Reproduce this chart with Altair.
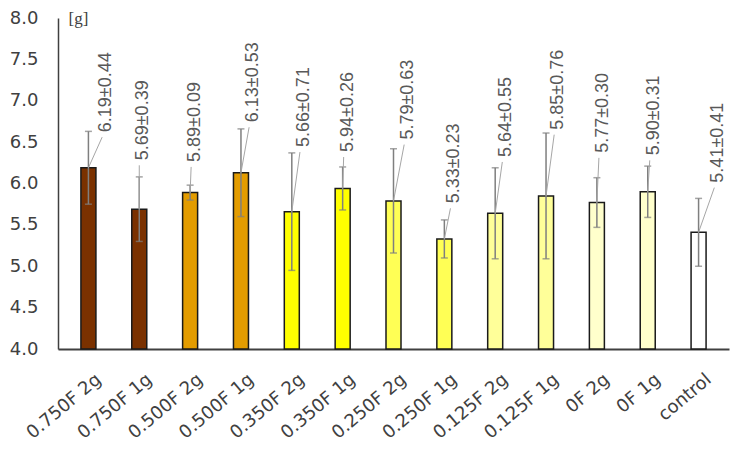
import json
import pandas as pd
import altair as alt

# data
names = ['0.750F 2g', '0.750F 1g', '0.500F 2g', '0.500F 1g', '0.350F 2g', '0.350F 1g',
         '0.250F 2g', '0.250F 1g', '0.125F 2g', '0.125F 1g', '0F 2g', '0F 1g', 'control']
means = [6.19, 5.69, 5.89, 6.13, 5.66, 5.94, 5.79, 5.33, 5.64, 5.85, 5.77, 5.90, 5.41]
sds = [0.44, 0.39, 0.09, 0.53, 0.71, 0.26, 0.63, 0.23, 0.55, 0.76, 0.30, 0.31, 0.41]

# where each data label sits (y in grams, x shift in category widths)
label_y = [6.56, 6.22, 6.20, 6.68, 6.38, 6.32, 6.47, 5.70, 6.26, 6.59, 6.31, 6.28, 5.95]
label_shift = [0.27, 0.0, 0.02, 0.16, 0.16, 0.02, 0.21, 0.12, 0.14, 0.16, 0.04, 0.04, 0.31]

conc_order = ['0.750F', '0.500F', '0.350F', '0.250F', '0.125F', '0F', 'control']
conc_colors = ['#7A3100', '#E39C00', '#FFFF00', '#FFFF55', '#FFFF99', '#FFFFCC', '#FFFFFF']

df = pd.DataFrame({'name': names, 'avg': means, 'sd': sds,
                   'ly': label_y, 'shift': label_shift})
df['idx'] = range(len(df))
df['lo'] = df['avg'] - df['sd']
df['hi'] = df['avg'] + df['sd']
df['lx'] = df['idx'] + df['shift']
df['conc'] = df['name'].str.split().str[0]
df['label'] = [f'{m:.2f}±{s:.2f}' for m, s in zip(means, sds)]

label_expr = json.dumps(names) + '[datum.value]'

x_scale = alt.Scale(domain=[-0.5, len(names) - 0.5], nice=False, zero=False)
y_scale = alt.Scale(domain=[4, 8], nice=False, zero=False)

x_axis = alt.Axis(values=list(range(len(names))), labelExpr=label_expr,
                  labelAngle=-40, labelAlign='right', labelBaseline='middle',
                  labelFont='DejaVu Sans', labelFontSize=18, labelColor='#404040',
                  labelPadding=28, labelOffset=10, labelOverlap=False, labelFlush=False,
                  ticks=False, grid=False, domainColor='#404040', domainWidth=2)
y_axis = alt.Axis(values=[4, 4.5, 5, 5.5, 6, 6.5, 7, 7.5, 8], format='.1f',
                  grid=False, ticks=False, domainColor='#404040', domainWidth=1.5,
                  labelFont='DejaVu Sans', labelFontSize=18, labelColor='#404040',
                  labelPadding=20, labelFlush=False,
                  titleAngle=0, titleAlign='left', titleBaseline='middle',
                  titleX=10, titleY=0, titleFont='Liberation Serif', titleFontSize=17,
                  titleFontWeight='normal', titleColor='#404040')

base = alt.Chart(df)

bars = base.mark_bar(size=15, stroke='#1a1a1a', strokeWidth=1.5).encode(
    x=alt.X('idx:Q', scale=x_scale, axis=x_axis, title=None),
    y=alt.Y('avg:Q', scale=y_scale, axis=y_axis, title='[g]'),
    y2=alt.datum(4),
    color=alt.Color('conc:N', scale=alt.Scale(domain=conc_order, range=conc_colors), legend=None)
)

err = base.mark_rule(color='#7f7f7f', strokeWidth=1.5).encode(
    x='idx:Q', y='lo:Q', y2='hi:Q'
)
cap_hi = base.mark_tick(orient='horizontal', size=7, thickness=1.5, color='#7f7f7f').encode(
    x='idx:Q', y='hi:Q'
)
cap_lo = base.mark_tick(orient='horizontal', size=7, thickness=1.5, color='#7f7f7f').encode(
    x='idx:Q', y='lo:Q'
)

leaders = base.mark_rule(color='#a6a6a6', strokeWidth=1).encode(
    x='idx:Q', y='avg:Q', x2='lx:Q', y2='ly:Q'
)

labels = base.mark_text(angle=270, align='left', baseline='middle', dx=5, dy=4,
                        font='Liberation Sans', fontSize=18, color='#595959').encode(
    x='lx:Q', y='ly:Q', text='label:N'
)

chart = (bars + err + cap_hi + cap_lo + leaders + labels).properties(
    width=671, height=331,
    autosize=alt.AutoSizeParams(type='none'),
    padding={'left': 50, 'top': 10, 'right': 2, 'bottom': 94},
    background='white'
).configure_view(stroke=None)

chart.save('out.html', embed_options={'renderer': 'svg', 'actions': False})
